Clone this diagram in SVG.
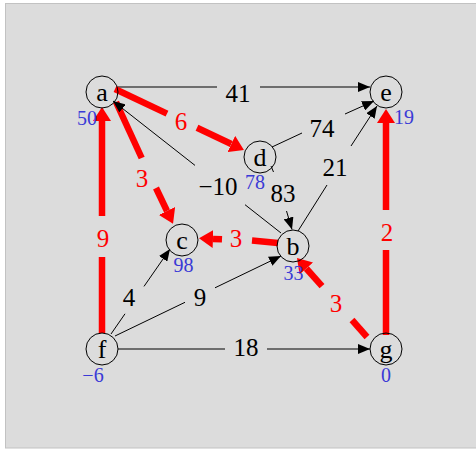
<svg xmlns="http://www.w3.org/2000/svg" width="476" height="450" viewBox="0 0 476 450">
<defs>
<style>
text{font-family:"Liberation Serif","Times New Roman","DejaVu Serif",serif}
.node circle{fill:none;stroke:#000;stroke-width:1}
.node text.n{font-size:26px;text-anchor:middle;fill:#000}
.node text.v{font-size:20px;text-anchor:middle;fill:#3a3ad6}
.blk{stroke:#000;stroke-width:1;fill:none}
.red{stroke:#ff0000;stroke-width:6.5;fill:none}
.lb{font-size:25px;text-anchor:middle;fill:#000}
.lr{font-size:25px;text-anchor:middle;fill:#ff0000}
</style>
<marker id="ab" markerUnits="userSpaceOnUse" markerWidth="12" markerHeight="10" refX="12" refY="5" orient="auto"><path d="M0,0 L12,5 L0,10 z" fill="#000"/></marker>
<marker id="ar" markerUnits="userSpaceOnUse" markerWidth="14" markerHeight="18" refX="0" refY="9" orient="auto"><path d="M0,0 L14,9 L0,18 z" fill="#ff0000"/></marker>
</defs>
<rect x="5.5" y="3.5" width="475" height="444.5" fill="#dcdcdc" stroke="#c2c2c2" stroke-width="1"/>
<g id="edges">
<path class="blk" d="M118,87 L217,87"/>
<path class="blk" d="M260,87 L370,87" marker-end="url(#ab)"/>
<text class="lb" x="238" y="102">41</text>
<path class="red" d="M115,89 L167,113.6"/>
<path class="red" d="M197,127.8 L231.3,144" marker-end="url(#ar)"/>
<text class="lr" x="181" y="130">6</text>
<path class="red" d="M116,102 L141.7,158"/>
<path class="red" d="M156,188 L167,211" marker-end="url(#ar)"/>
<text class="lr" x="142" y="187">3</text>
<path class="blk" d="M281,233 L245,204.7"/>
<path class="blk" d="M195,165.4 L113,101" marker-end="url(#ab)"/>
<text class="lb" x="218" y="195">−10</text>
<path class="blk" d="M272,147 L302,133"/>
<path class="blk" d="M345,114 L374,101" marker-end="url(#ab)"/>
<text class="lb" x="322" y="137">74</text>
<path class="blk" d="M298,231 L327,185"/>
<path class="blk" d="M351,146 L377,106" marker-end="url(#ab)"/>
<text class="lb" x="335" y="176">21</text>
<path class="blk" d="M271,166 L273.5,172"/>
<path class="blk" d="M286.5,211 L292,229.5" marker-end="url(#ab)"/>
<text class="lb" x="283" y="202">83</text>
<path class="red" d="M278,243 L252,240.5"/>
<path class="red" d="M222,239.3 L213,238.9" marker-end="url(#ar)"/>
<text class="lr" x="236" y="247">3</text>
<path class="blk" d="M111,334 L125,313.8"/>
<path class="blk" d="M144,286.4 L170,249" marker-end="url(#ab)"/>
<text class="lb" x="129" y="306">4</text>
<path class="blk" d="M115,336 L185,302.3"/>
<path class="blk" d="M215,287.8 L281,256" marker-end="url(#ab)"/>
<text class="lb" x="200" y="306">9</text>
<path class="blk" d="M118,349 L225,349"/>
<path class="blk" d="M267,349 L370,349" marker-end="url(#ab)"/>
<text class="lb" x="246" y="356">18</text>
<path class="red" d="M102,333 L102,257"/>
<path class="red" d="M102,216 L102,121" marker-end="url(#ar)"/>
<text class="lr" x="103" y="247">9</text>
<path class="red" d="M386,335 L386,250"/>
<path class="red" d="M386,210 L386,123" marker-end="url(#ar)"/>
<text class="lr" x="387" y="241">2</text>
<path class="red" d="M367,337 L352,320"/>
<path class="red" d="M322,286.2 L306.3,268.5" marker-end="url(#ar)"/>
<text class="lr" x="336" y="312">3</text>
</g>
<g id="node-a" class="node"><circle cx="102" cy="92" r="16"/><text class="n" x="102" y="101">a</text><text class="v" x="87" y="125">50</text></g>
<g id="node-e" class="node"><circle cx="386" cy="92" r="16"/><text class="n" x="386" y="101">e</text><text class="v" x="404" y="124">19</text></g>
<g id="node-d" class="node"><circle cx="260" cy="157" r="16"/><text class="n" x="260" y="166">d</text><text class="v" x="255" y="189">78</text></g>
<g id="node-c" class="node"><circle cx="182" cy="240" r="16"/><text class="n" x="182" y="249">c</text><text class="v" x="183.5" y="272">98</text></g>
<g id="node-b" class="node"><circle cx="293" cy="246" r="16"/><text class="n" x="293" y="255">b</text><text class="v" x="293.5" y="280">33</text></g>
<g id="node-f" class="node"><circle cx="102" cy="349" r="16"/><text class="n" x="102" y="358">f</text><text class="v" x="93" y="382">−6</text></g>
<g id="node-g" class="node"><circle cx="386" cy="349" r="16"/><text class="n" x="386" y="358">g</text><text class="v" x="386" y="382">0</text></g>
</svg>
